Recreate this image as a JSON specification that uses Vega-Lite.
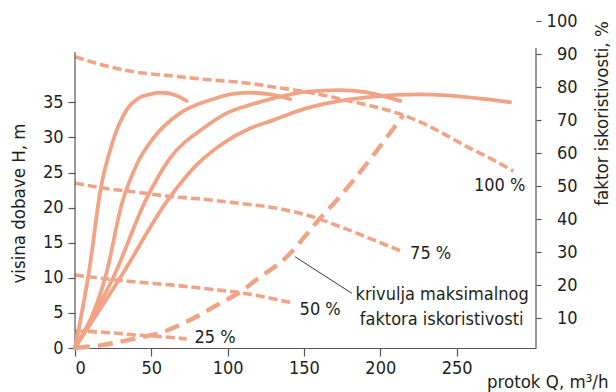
{
  "$schema": "https://vega.github.io/schema/vega-lite/v6.json",
  "width": 461,
  "height": 327,
  "autosize": {"type": "none"},
  "padding": {"left": 75, "top": 21, "right": 80, "bottom": 44},
  "background": "white",
  "config": {
    "font": "'Liberation Sans Narrow', 'DejaVu Sans Condensed', 'Liberation Sans', sans-serif",
    "view": {"stroke": null},
    "axis": {
      "labelFontSize": 18,
      "titleFontSize": 18.5,
      "titleFontWeight": "normal",
      "labelColor": "#231f20",
      "titleColor": "#231f20",
      "tickColor": "#555555",
      "domainColor": "#555555",
      "tickWidth": 1.2,
      "domainWidth": 1.2,
      "grid": false
    }
  },
  "datasets": {
    "head": [
      {"curve": "100", "Q": 0, "H": 41.5}, {"curve": "100", "Q": 18.5, "H": 40.3}, {"curve": "100", "Q": 40.4, "H": 39.3},
      {"curve": "100", "Q": 62.3, "H": 38.8}, {"curve": "100", "Q": 83.9, "H": 38.3}, {"curve": "100", "Q": 114.7, "H": 37.7},
      {"curve": "100", "Q": 130, "H": 37.2}, {"curve": "100", "Q": 151.8, "H": 36.5}, {"curve": "100", "Q": 173.6, "H": 35.5},
      {"curve": "100", "Q": 195.5, "H": 34.4}, {"curve": "100", "Q": 215, "H": 33.2}, {"curve": "100", "Q": 234.8, "H": 31.3},
      {"curve": "100", "Q": 256.7, "H": 28.7}, {"curve": "100", "Q": 274.1, "H": 26.8}, {"curve": "100", "Q": 287.2, "H": 25.2},
      {"curve": "75", "Q": 0, "H": 23.5}, {"curve": "75", "Q": 18.5, "H": 22.8}, {"curve": "75", "Q": 40.4, "H": 22.2},
      {"curve": "75", "Q": 62.3, "H": 21.6}, {"curve": "75", "Q": 84.1, "H": 21.2}, {"curve": "75", "Q": 108, "H": 20.6},
      {"curve": "75", "Q": 130, "H": 20.0}, {"curve": "75", "Q": 151.8, "H": 18.95}, {"curve": "75", "Q": 173.6, "H": 17.3},
      {"curve": "75", "Q": 195.5, "H": 15.4}, {"curve": "75", "Q": 215.1, "H": 13.7},
      {"curve": "50", "Q": 0, "H": 10.4}, {"curve": "50", "Q": 18.5, "H": 9.9}, {"curve": "50", "Q": 40.4, "H": 9.4},
      {"curve": "50", "Q": 62.3, "H": 9.0}, {"curve": "50", "Q": 84.1, "H": 8.5}, {"curve": "50", "Q": 114.7, "H": 7.65},
      {"curve": "50", "Q": 125.6, "H": 7.2}, {"curve": "50", "Q": 143.1, "H": 6.4},
      {"curve": "25", "Q": 0, "H": 2.45}, {"curve": "25", "Q": 18.5, "H": 2.25}, {"curve": "25", "Q": 40.4, "H": 1.85},
      {"curve": "25", "Q": 57.9, "H": 1.6}, {"curve": "25", "Q": 73.2, "H": 1.3}
    ],
    "locus": [
      {"Q": 0, "H": 0}, {"Q": 18.5, "H": 0.45}, {"Q": 40.4, "H": 1.4}, {"Q": 57.9, "H": 2.3},
      {"Q": 75.4, "H": 4.0}, {"Q": 92.9, "H": 6.1}, {"Q": 110.3, "H": 8.3}, {"Q": 116.8, "H": 9.4},
      {"Q": 138.7, "H": 13.0}, {"Q": 160.6, "H": 18.5}, {"Q": 170.4, "H": 20.8}, {"Q": 195.5, "H": 27.5},
      {"Q": 215, "H": 33.2}
    ],
    "eff": [
      {"curve": "c1", "Q": 0, "E": 1.06}, {"curve": "c1", "Q": 9.8, "E": 26}, {"curve": "c1", "Q": 16.4, "E": 48},
      {"curve": "c1", "Q": 25.1, "E": 64}, {"curve": "c1", "Q": 33.9, "E": 73.1}, {"curve": "c1", "Q": 42.6, "E": 76.9},
      {"curve": "c1", "Q": 49.1, "E": 77.8}, {"curve": "c1", "Q": 55.7, "E": 78.3}, {"curve": "c1", "Q": 60.1, "E": 78.2},
      {"curve": "c1", "Q": 66.6, "E": 77.4}, {"curve": "c1", "Q": 73.2, "E": 75.8},
      {"curve": "c2", "Q": 0, "E": 1.06}, {"curve": "c2", "Q": 20.8, "E": 24}, {"curve": "c2", "Q": 30.6, "E": 44.5},
      {"curve": "c2", "Q": 40.4, "E": 56.5}, {"curve": "c2", "Q": 51.3, "E": 64.5}, {"curve": "c2", "Q": 68.8, "E": 72.1},
      {"curve": "c2", "Q": 88.5, "E": 76.1}, {"curve": "c2", "Q": 106, "E": 78.1}, {"curve": "c2", "Q": 114.7, "E": 78.3},
      {"curve": "c2", "Q": 130, "E": 77.6}, {"curve": "c2", "Q": 141, "E": 76.3},
      {"curve": "c3", "Q": 0, "E": 1.06}, {"curve": "c3", "Q": 26.2, "E": 23.5}, {"curve": "c3", "Q": 45.9, "E": 45.3},
      {"curve": "c3", "Q": 62.3, "E": 58.5}, {"curve": "c3", "Q": 84.1, "E": 67.5}, {"curve": "c3", "Q": 99.4, "E": 72.1},
      {"curve": "c3", "Q": 114.7, "E": 74.6}, {"curve": "c3", "Q": 130, "E": 76.6}, {"curve": "c3", "Q": 151.8, "E": 78.6},
      {"curve": "c3", "Q": 173.7, "E": 79.1}, {"curve": "c3", "Q": 191.2, "E": 78.4}, {"curve": "c3", "Q": 213, "E": 75.8},
      {"curve": "c4", "Q": 0, "E": 1.06}, {"curve": "c4", "Q": 30.6, "E": 23}, {"curve": "c4", "Q": 60.1, "E": 45.3},
      {"curve": "c4", "Q": 79.8, "E": 56.5}, {"curve": "c4", "Q": 97.2, "E": 63.0}, {"curve": "c4", "Q": 114.7, "E": 67.5},
      {"curve": "c4", "Q": 130, "E": 70.0}, {"curve": "c4", "Q": 151.8, "E": 73.6}, {"curve": "c4", "Q": 173.7, "E": 75.8},
      {"curve": "c4", "Q": 195.5, "E": 77.1}, {"curve": "c4", "Q": 226.1, "E": 77.8}, {"curve": "c4", "Q": 245.7, "E": 77.4},
      {"curve": "c4", "Q": 267.6, "E": 76.4}, {"curve": "c4", "Q": 285, "E": 75.4}
    ],
    "labels": [
      {"text": "100 %", "Q": 278.2, "H": 23.1},
      {"text": "75 %", "Q": 233, "H": 13.4},
      {"text": "50 %", "Q": 160.6, "H": 5.4},
      {"text": "25 %", "Q": 91.7, "H": 1.4},
      {"text": "krivulja maksimalnog", "Q": 240.5, "H": 7.55},
      {"text": "faktora iskoristivosti", "Q": 240.2, "H": 3.99}
    ],
    "leader": [{"Q": 144.2, "H": 13.0, "Q2": 181.3, "H2": 7.8}],
    "leftLine": [{"Q": 0, "H": 0, "H2": 42.2}],
    "rightLine": [{"Q": 302, "E": 1, "E2": 91.8}]
  },
  "layer": [
    {
      "encoding": {
        "x": {"field": "Q", "type": "quantitative", "scale": {"domain": [0, 302], "nice": false},
              "axis": {"values": [0, 50, 100, 150, 200, 250], "tickSize": 8, "labelPadding": 3, "domain": true,
                       "title": "protok Q, m³/h", "titleAnchor": "end", "titleAlign": "right", "titleBaseline": "middle",
                       "titleX": 533, "titleY": 33}},
        "y": {"field": "H", "type": "quantitative", "scale": {"domain": [0, 46.6], "nice": false},
              "axis": {"values": [0, 5, 10, 15, 20, 25, 30, 35], "tickSize": 7, "labelPadding": 5, "domain": false,
                       "title": "visina dobave H, m", "titleAngle": 270, "titleAlign": "center", "titleBaseline": "middle",
                       "titleX": -57, "titleY": 182}}
      },
      "layer": [
        {
          "data": {"name": "head"},
          "mark": {"type": "line", "interpolate": "monotone", "strokeWidth": 3.6, "strokeDash": [9, 4], "color": "#f1a385"},
          "encoding": {"detail": {"field": "curve"}}
        },
        {
          "data": {"name": "locus"},
          "mark": {"type": "line", "interpolate": "monotone", "strokeWidth": 4.4, "strokeDash": [15, 8], "color": "#f1a385"},
          "encoding": {}
        },
        {
          "data": {"name": "leader"},
          "mark": {"type": "rule", "color": "#231f20", "strokeWidth": 0.9},
          "encoding": {"x2": {"field": "Q2"}, "y2": {"field": "H2"}}
        },
        {
          "data": {"name": "leftLine"},
          "mark": {"type": "rule", "color": "#555555", "strokeWidth": 1.2},
          "encoding": {"y2": {"field": "H2"}}
        },
        {
          "data": {"name": "labels"},
          "mark": {"type": "text", "fontSize": 18, "color": "#231f20", "align": "center", "baseline": "middle"},
          "encoding": {"text": {"field": "text"}}
        }
      ]
    },
    {
      "encoding": {
        "x": {"field": "Q", "type": "quantitative", "scale": {"domain": [0, 302], "nice": false},
              "axis": {"values": [0, 50, 100, 150, 200, 250], "tickSize": 8, "labelPadding": 3, "domain": true,
                       "title": "protok Q, m³/h", "titleAnchor": "end", "titleAlign": "right", "titleBaseline": "middle",
                       "titleX": 533, "titleY": 33}},
        "y": {"field": "E", "type": "quantitative", "scale": {"domain": [1, 100], "nice": false},
              "axis": {"orient": "right", "values": [10, 20, 30, 40, 50, 60, 70, 80, 90, 100], "tickSize": 5,
                       "labelAlign": "right", "labelPadding": 36, "domain": false,
                       "title": "faktor iskoristivosti, %", "titleAngle": 270, "titleAlign": "center", "titleBaseline": "middle",
                       "titleX": 65, "titleY": 92}}
      },
      "layer": [
        {
          "data": {"name": "eff"},
          "mark": {"type": "line", "interpolate": "monotone", "strokeWidth": 3.8, "strokeCap": "round", "color": "#f1a385"},
          "encoding": {"detail": {"field": "curve"}}
        },
        {
          "data": {"name": "rightLine"},
          "mark": {"type": "rule", "color": "#555555", "strokeWidth": 1.2},
          "encoding": {"y2": {"field": "E2"}}
        }
      ]
    }
  ],
  "resolve": {"scale": {"y": "independent"}, "axis": {"y": "independent"}}
}
